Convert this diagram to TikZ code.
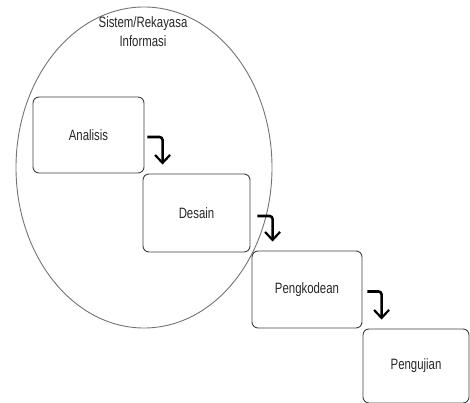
\documentclass[tikz,border=0pt]{standalone}
\usepackage{fontspec}
\setmainfont{Liberation Sans}[FakeStretch=0.76]
\usetikzlibrary{arrows.meta,shapes.geometric}
\begin{document}
\begin{tikzpicture}[x=1pt,y=-1pt,
  stage/.style={draw=black!75,line width=0.9pt,rounded corners=6pt,
    inner sep=0pt,font=\fontsize{15}{17}\selectfont,text=black!85},
  flow/.style={line width=2.6pt,rounded corners=3pt,
    -{Straight Barb[length=8pt,width=15pt,line width=2.2pt]}},
  scopering/.style={ellipse,draw=black!55,line width=0.9pt,inner sep=0pt}]
\useasboundingbox (0,0) rectangle (470,403);
% system / information engineering scope
\node[scopering,minimum width=256pt,minimum height=321pt] (sys) at (144,167.5) {};
\node[font=\fontsize{15}{19}\selectfont,text=black!85,align=center] (syslbl) at (143,32)
  {Sistem/Rekayasa\\Informasi};
% stages
\node[stage,minimum width=111pt,minimum height=76pt] (an) at (88.5,135) {Analisis};
\node[stage,minimum width=107pt,minimum height=78pt] (de) at (196.5,213) {Desain};
\node[stage,minimum width=110pt,minimum height=77pt] (pk) at (307,289.5) {Pengkodean};
\node[stage,minimum width=106pt,minimum height=74pt] (pu) at (416,366) {Pengujian};
% step arrows
\draw[flow] ([xshift=3pt,yshift=-2pt]an.east) -| ([xshift=20pt,yshift=9pt]de.north west);
\draw[flow] ([xshift=7pt,yshift=-3pt]de.east) -| ([xshift=21pt,yshift=9pt]pk.north west);
\draw[flow] ([xshift=5pt,yshift=-2pt]pk.east) -| ([xshift=19pt,yshift=9pt]pu.north west);
\end{tikzpicture}
\end{document}
